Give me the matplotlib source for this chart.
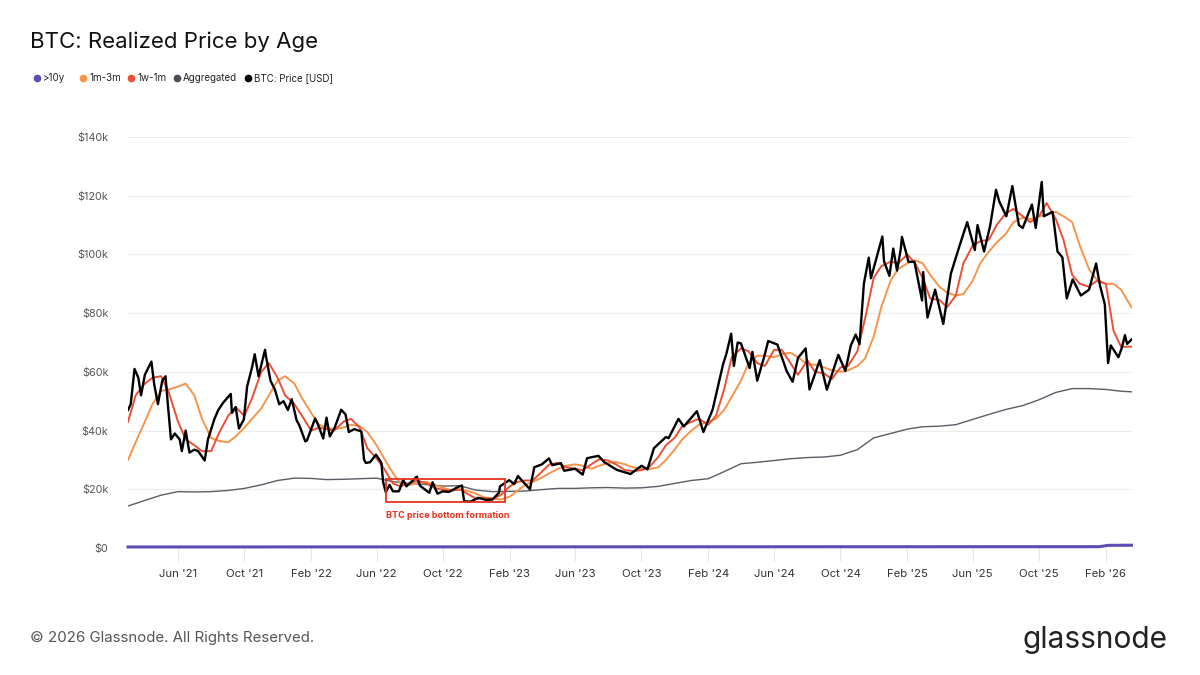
import pandas as pd
import matplotlib.pyplot as plt
import matplotlib.dates as mdates
from matplotlib.lines import Line2D
from matplotlib.patches import Rectangle

plt.rcParams['font.family'] = ['Inter', 'DejaVu Sans']

# BTC price [USD, k]
price_dates = [
    "2021-03-01", "2021-03-06", "2021-03-13", "2021-03-20", "2021-03-25", "2021-04-01", "2021-04-13",
    "2021-04-18", "2021-04-25", "2021-05-03", "2021-05-09", "2021-05-13", "2021-05-19", "2021-05-26",
    "2021-06-04", "2021-06-08", "2021-06-15", "2021-06-22", "2021-07-01", "2021-07-08", "2021-07-20",
    "2021-07-26", "2021-08-07", "2021-08-14", "2021-08-23", "2021-09-06", "2021-09-08", "2021-09-15",
    "2021-09-21", "2021-09-30", "2021-10-06", "2021-10-15", "2021-10-20", "2021-10-27", "2021-11-08",
    "2021-11-10", "2021-11-18", "2021-11-26", "2021-12-04", "2021-12-12", "2021-12-20", "2021-12-27",
    "2022-01-05", "2022-01-10", "2022-01-21", "2022-01-24", "2022-02-08", "2022-02-13", "2022-02-23",
    "2022-03-01", "2022-03-07", "2022-03-16", "2022-03-28", "2022-04-05", "2022-04-11", "2022-04-21",
    "2022-05-04", "2022-05-09", "2022-05-12", "2022-05-20", "2022-05-31", "2022-06-10", "2022-06-13",
    "2022-06-18", "2022-06-25", "2022-07-01", "2022-07-12", "2022-07-20", "2022-07-26", "2022-08-14",
    "2022-08-20", "2022-09-06", "2022-09-12", "2022-09-21", "2022-10-01", "2022-10-12", "2022-10-29",
    "2022-11-05", "2022-11-09", "2022-11-21", "2022-12-05", "2022-12-19", "2022-12-31", "2023-01-12",
    "2023-01-14", "2023-01-31", "2023-02-09", "2023-02-16", "2023-03-10", "2023-03-18", "2023-04-01",
    "2023-04-14", "2023-04-20", "2023-05-06", "2023-05-12", "2023-06-01", "2023-06-15", "2023-06-23",
    "2023-07-14", "2023-07-25", "2023-08-17", "2023-09-11", "2023-10-01", "2023-10-12", "2023-10-24",
    "2023-11-15", "2023-11-20", "2023-12-08", "2023-12-18", "2024-01-11", "2024-01-23", "2024-02-09",
    "2024-02-15", "2024-02-28", "2024-03-05", "2024-03-14", "2024-03-19", "2024-03-26", "2024-04-01",
    "2024-04-17", "2024-04-22", "2024-05-01", "2024-05-15", "2024-05-21", "2024-06-07", "2024-06-24",
    "2024-07-05", "2024-07-15", "2024-07-29", "2024-08-05", "2024-08-24", "2024-09-06", "2024-09-27",
    "2024-10-10", "2024-10-20", "2024-10-29", "2024-11-05", "2024-11-13", "2024-11-22", "2024-11-26",
    "2024-12-05", "2024-12-17", "2024-12-20", "2024-12-30", "2025-01-06", "2025-01-13", "2025-01-20",
    "2025-01-22", "2025-02-03", "2025-02-14", "2025-02-28", "2025-03-02", "2025-03-10", "2025-03-24",
    "2025-04-08", "2025-04-22", "2025-05-08", "2025-05-22", "2025-06-05", "2025-06-10", "2025-06-22",
    "2025-07-03", "2025-07-14", "2025-07-20", "2025-08-02", "2025-08-13", "2025-08-25", "2025-09-01",
    "2025-09-18", "2025-09-25", "2025-10-06", "2025-10-10", "2025-10-26", "2025-11-04", "2025-11-13",
    "2025-11-21", "2025-12-02", "2025-12-17", "2026-01-01", "2026-01-14", "2026-01-21", "2026-01-30",
    "2026-02-05", "2026-02-10", "2026-02-17", "2026-02-24", "2026-03-02", "2026-03-08", "2026-03-12",
    "2026-03-20",
]
price_k = [
    47, 49, 61, 58, 52, 59, 63.5,
    56, 49, 57, 58.5, 49.5, 37, 39,
    37, 33, 40, 32.5, 33.5, 33, 29.8,
    37, 44, 47, 49.5, 52.5, 46, 48,
    40.7, 43.8, 55, 61.5, 66, 58.5, 67.5,
    65, 57, 54, 49, 50, 47, 50.7,
    43.5, 41.8, 36.3, 36.6, 44.1, 42.2, 37.3,
    44.4, 38, 41, 47.1, 45.5, 39.5, 40.5,
    39.7, 30.1, 29, 29.2, 31.8, 29, 22.5,
    19, 21.5, 19.3, 19.3, 23.2, 21, 24.3,
    21.2, 18.8, 22.4, 18.5, 19.3, 19.1, 20.8,
    21.3, 15.9, 15.8, 17.1, 16.4, 16.5, 18.8,
    21, 23.1, 21.8, 24.5, 20, 27.5, 28.5,
    30.5, 28.2, 28.9, 26.3, 27, 25, 30.6,
    31.4, 29.2, 26.6, 25.2, 28, 26.8, 34,
    37.8, 37.4, 44, 41.4, 46.6, 39.5, 47.2,
    52, 62.5, 66, 73, 62, 70, 69.7,
    61.3, 66.8, 57, 66, 70.5, 69.3, 60.3,
    56.6, 64.8, 68, 54, 64, 53.9, 65.8,
    60.3, 69, 72.7, 69.4, 90, 98.9, 91.9,
    98, 106.1, 97.7, 92.7, 102, 94.5, 102,
    106, 97.5, 97.5, 84.3, 94, 78.5, 88,
    76.3, 93.5, 103, 111, 101.5, 110, 101,
    109.6, 122, 118, 113, 123.3, 110, 109,
    117, 109, 124.7, 113, 114.5, 101, 99,
    85, 91.5, 86, 88, 96.9, 89.5, 83,
    63, 69, 67, 65, 68, 72.5, 69.5,
    71,
]

# realized price cohorts, twice a month
rp_dates = pd.date_range("2021-03-01", "2026-03-01", freq="SMS").strftime("%Y-%m-%d").tolist() + ["2026-03-20"]
rp_1w_1m = [
    43, 52, 56, 58, 58.5, 53, 43, 37, 35, 33, 33, 39,
    45, 48, 45, 51, 60, 63, 58, 52,
    49, 45, 40, 41, 40.5, 40, 43, 44, 41, 34, 30.5, 27,
    22, 21, 22, 23, 22, 20.5, 19.8, 19.5, 20, 18.5, 16.8, 17,
    16.8, 18, 21, 22.5, 23, 23, 26, 28.5, 29, 27.5, 27, 26.5,
    28.5, 30.2, 29.8, 28.5, 26.5, 26.2, 26.5, 27.5, 31, 35, 37.5, 41.5,
    43, 44, 42, 45, 54, 65, 68, 67, 63, 62, 67.5, 67.5,
    63, 59, 64, 60, 59.5, 57.5, 61.5, 62, 67, 78, 92, 96,
    97.5, 97, 100, 97, 92, 85, 84.5, 82, 86, 97, 103, 104.5,
    105, 110, 114, 115.5, 113, 111, 113, 117.5, 112, 105, 93, 90,
    89, 91, 90, 74, 68.5, 68.6,
]
rp_1m_3m = [
    30, 36, 43, 49, 53.5, 54, 55, 56, 52, 44, 37.5, 36.5,
    36, 38, 41, 44, 47.5, 52, 57, 58.5,
    56, 51, 46, 42, 41, 40.5, 41, 42, 41.5, 39.5, 35, 30.5,
    25.5, 22, 21.5, 22.2, 22.5, 21.5, 20.5, 19.8, 19.8, 19.5, 18.5, 17.3,
    16.8, 16.5, 17.5, 19.5, 21.5, 22.5, 24, 25.5, 27, 28, 28.5, 28,
    27, 28, 29, 29.3, 28.5, 27.5, 27, 26.8, 27.5, 30, 33.5, 37,
    40, 42, 43, 44, 47, 51.5, 57, 63, 65.5, 65.5, 65, 66,
    66.5, 65, 62.5, 62.5, 61.5, 60.5, 60, 60.5, 62, 64.5, 72, 82,
    91, 95, 97, 98, 97, 93, 89, 87, 86, 86.5, 91, 97,
    101, 104, 107, 111, 112.5, 112, 113, 113.5, 114.5, 113, 111, 103,
    95, 91.5, 90, 90, 88, 82,
]

# aggregated and >10y realized price, monthly
agg_dates = pd.date_range("2021-03-01", "2026-03-01", freq="MS").strftime("%Y-%m-%d").tolist() + ["2026-03-20"]
rp_aggregated = [
    14.3, 16.2, 18, 19.2, 19.1, 19.2, 19.6, 20.3, 21.5, 23,
    23.8, 23.7, 23.3, 23.4, 23.6, 23.8, 22.6, 22, 21.6, 21.1, 21.2, 19.7,
    19.2, 19.3, 19.4, 19.9, 20.3, 20.3, 20.5, 20.6, 20.4, 20.5, 21, 22,
    23, 23.6, 26, 28.7, 29.2, 29.8, 30.4, 30.8, 31, 31.6, 33.5, 37.5,
    39, 40.5, 41.3, 41.5, 42, 43.8, 45.5, 47.2, 48.5, 50.5, 53, 54.3,
    54.3, 54, 53.4, 53.2,
]
rp_10y_dates = ["2021-03-01", "2026-01-20", "2026-02-05", "2026-03-20"]
rp_10y = [0.35, 0.45, 0.9, 0.95]

fig = plt.figure(figsize=(12, 6.75), dpi=100)
ax = fig.add_axes([128 / 1200, 1 - 548 / 675, (1132 - 128) / 1200, (548 - 137) / 675])

ax.plot(pd.to_datetime(rp_10y_dates), [v * 1000 for v in rp_10y], color='#5b4db3', lw=2.2, clip_on=False, zorder=3)
ax.plot(pd.to_datetime(agg_dates), [v * 1000 for v in rp_aggregated], color='#5a5d66', lw=1.0, zorder=3)
ax.plot(pd.to_datetime(rp_dates), [v * 1000 for v in rp_1m_3m], color='#f7944a', lw=1.4, zorder=4)
ax.plot(pd.to_datetime(rp_dates), [v * 1000 for v in rp_1w_1m], color='#ec4f33', lw=1.4, zorder=5)
ax.plot(pd.to_datetime(price_dates), [v * 1000 for v in price_k], color='black', lw=1.7, zorder=6)

# annotation box
x0 = mdates.date2num(pd.Timestamp("2022-06-18"))
x1 = mdates.date2num(pd.Timestamp("2023-01-24"))
ax.add_patch(Rectangle((x0, 15700), x1 - x0, 7800, fill=False, edgecolor='#e8321e', lw=1.3, zorder=7))
ax.text(x0, 11000, "BTC price bottom formation", color='#e8321e', fontsize=6.5, fontweight='bold', va='center', ha='left')

ax.set_xlim(pd.Timestamp("2021-03-01"), pd.Timestamp("2026-03-21"))
ax.set_ylim(0, 140000)
ax.set_yticks(range(0, 140001, 20000))
ax.set_yticklabels(["$0"] + [f"${v}k" for v in range(20, 141, 20)])
ax.xaxis.set_major_locator(mdates.MonthLocator(bymonth=[2, 6, 10]))
ax.xaxis.set_major_formatter(mdates.DateFormatter("%b '%y"))
ax.grid(axis='y', color='#ececec', lw=0.8)
ax.set_axisbelow(True)
for s in ax.spines.values():
    s.set_visible(False)
ax.tick_params(axis='y', length=0, pad=14, labelsize=7.8, labelcolor='#555555')
ax.tick_params(axis='x', length=9, width=0.8, color='#e6e6e6', pad=6, labelsize=8.2, labelcolor='#333333')

fig.text(30 / 1200, 1 - 42 / 675, "BTC: Realized Price by Age", fontsize=16, color='#111111', va='center', ha='left')

legend_items = [(37, ">10y", '#5b4db3'), (83, "1m-3m", '#f7944a'), (131, "1w-1m", '#ec4f33'),
                (177, "Aggregated", '#4a4d55'), (248, "BTC: Price [USD]", 'black')]
for lx, label, c in legend_items:
    fig.add_artist(Line2D([lx / 1200], [1 - 78 / 675], marker='o', markersize=4.5, color=c, ls='none',
                          transform=fig.transFigure))
    fig.text((lx + 6) / 1200, 1 - 78 / 675, label, fontsize=7, color='#222222', va='center', ha='left')

fig.text(30 / 1200, 1 - 638 / 675, "\u00a9 2026 Glassnode. All Rights Reserved.", fontsize=10.8, color='#555555',
         va='center', ha='left')
fig.text(1168 / 1200, 1 - 640 / 675, "glassnode", fontsize=21.5, color='#222222', va='center', ha='right')

fig.savefig("out.png", dpi=100, facecolor='white')
